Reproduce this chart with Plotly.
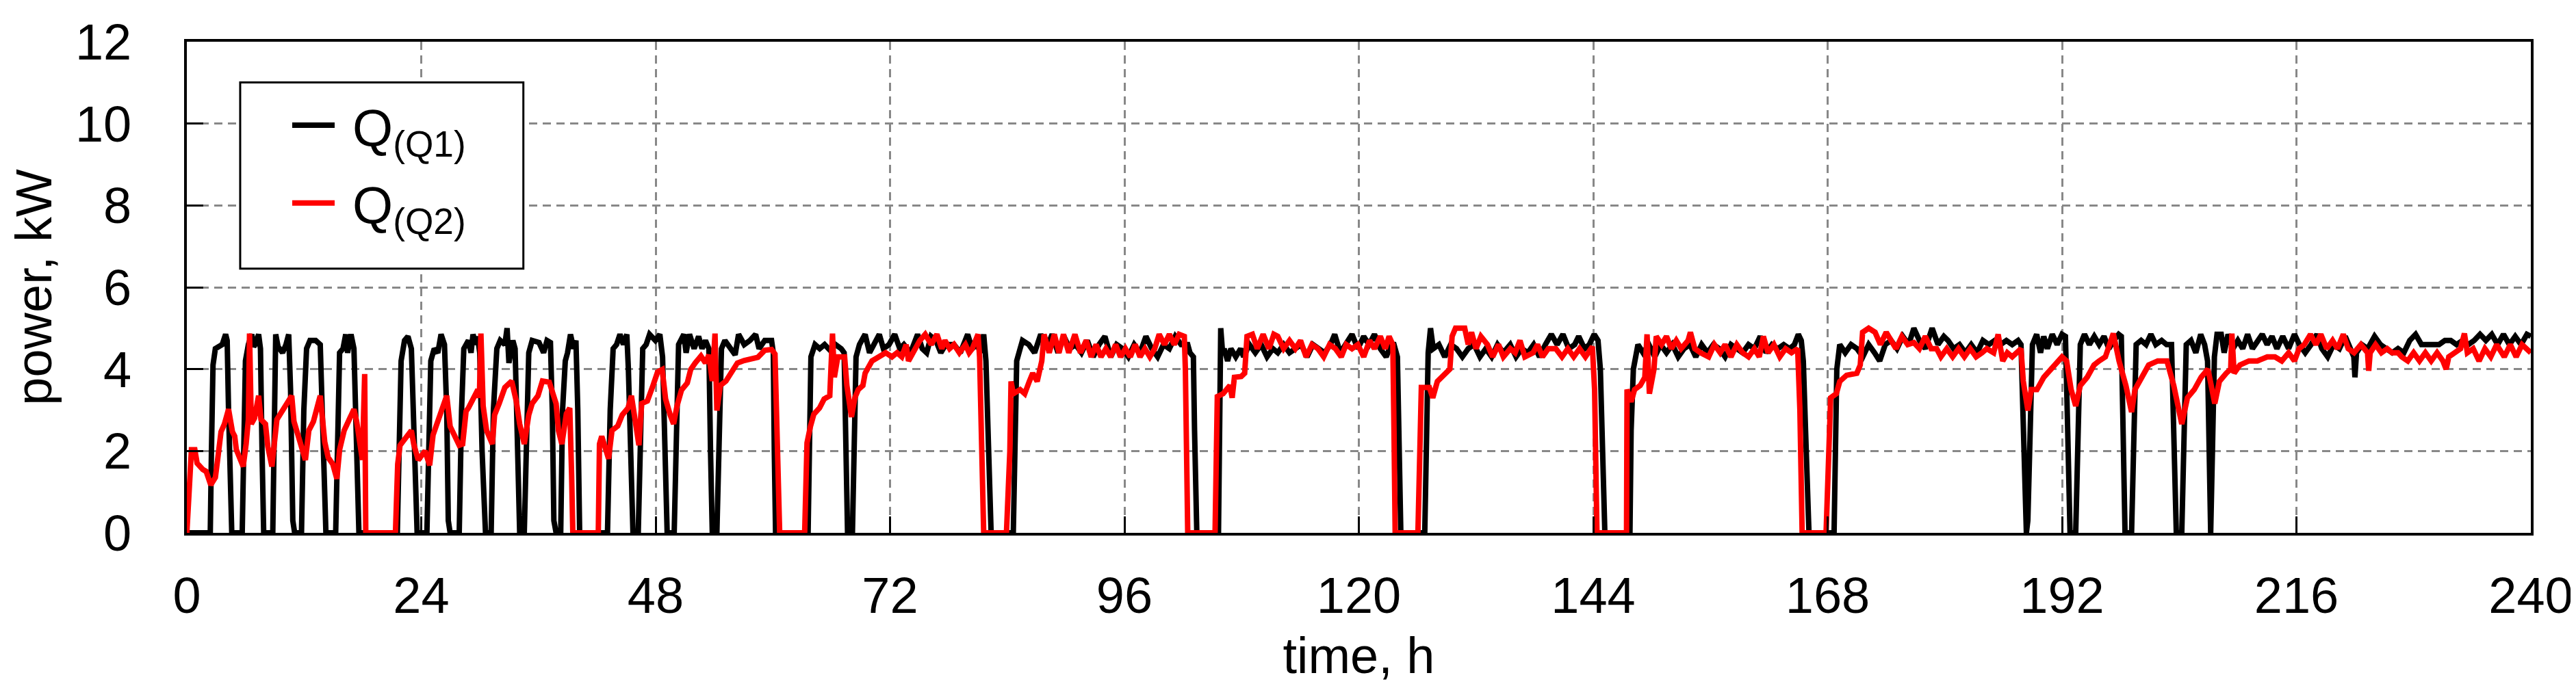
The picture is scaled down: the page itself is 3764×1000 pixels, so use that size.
import plotly.graph_objects as go

# ---- data (time in h, power in kW) ----
q1_readings = [
    (0, 0), (2.40, 0), (2.52, 2.0), (2.68, 4.1), (2.92, 4.5), (3.27, 4.55), (3.62, 4.6), (3.97, 4.85), (4.13, 4.7), (4.27, 3.0), (4.44, 0.5), (4.60, 0),
    (5.67, 0), (5.84, 2.5), (6.00, 4.2), (6.30, 4.6), (6.65, 4.85), (6.85, 4.55), (7.00, 4.6), (7.35, 4.85), (7.54, 4.5), (7.70, 2.0), (7.87, 0),
    (8.80, 0), (8.99, 3.0), (9.10, 4.85), (9.34, 4.55), (9.80, 4.4), (10.15, 4.6), (10.43, 4.85), (10.62, 3.5), (10.85, 0.3), (11.04, 0),
    (11.74, 0), (11.98, 3.0), (12.26, 4.5), (12.61, 4.7), (13.19, 4.7), (13.66, 4.6), (13.84, 3.0), (14.08, 0.3), (14.24, 0),
    (15.24, 0), (15.48, 3.0), (15.64, 4.4), (15.99, 4.5), (16.27, 4.85), (16.46, 4.4), (16.81, 4.85), (17.11, 4.5), (17.34, 2.0), (17.62, 0),
    (21.55, 0), (21.71, 2.5), (21.94, 4.2), (22.29, 4.7), (22.64, 4.8), (22.99, 4.5), (23.18, 3.0), (23.41, 0.3), (23.58, 0),
    (24.58, 0), (24.74, 2.5), (24.98, 4.2), (25.33, 4.5), (25.70, 4.4), (26.03, 4.85), (26.38, 4.6), (26.61, 3.0), (26.77, 0.3), (26.96, 0),
    (27.89, 0), (28.13, 3.0), (28.36, 4.5), (28.83, 4.7), (29.10, 4.4), (29.30, 4.85), (29.60, 4.6), (29.76, 4.8), (29.99, 4.4), (30.23, 2.0), (30.58, 0),
    (31.16, 0), (31.39, 3.0), (31.74, 4.5), (32.09, 4.7), (32.56, 4.6), (32.79, 5.0), (32.98, 4.15), (33.38, 4.7), (33.61, 4.5), (33.85, 2.0), (34.08, 0),
    (34.55, 0), (34.78, 3.0), (35.01, 4.4), (35.36, 4.7), (36.06, 4.65), (36.53, 4.4), (36.88, 4.7), (37.23, 4.65), (37.42, 3.0), (37.58, 0.3), (37.81, 0),
    (38.28, 0), (38.47, 3.0), (38.75, 4.2), (38.98, 4.4), (39.28, 4.85), (39.61, 4.5), (39.84, 4.7), (40.03, 3.0), (40.22, 0),
    (43.07, 0), (43.35, 3.0), (43.65, 4.5), (44.00, 4.6), (44.35, 4.85), (44.70, 4.6), (45.05, 4.85), (45.21, 4.0), (45.40, 2.0), (45.68, 0),
    (46.22, 0), (46.45, 3.0), (46.68, 4.5), (47.03, 4.6), (47.38, 4.85), (47.97, 4.7), (48.43, 4.85), (48.71, 4.3), (48.95, 2.0), (49.18, 0),
    (49.90, 0), (50.12, 3.0), (50.35, 4.6), (50.89, 4.85), (51.12, 4.4), (51.47, 4.85), (51.94, 4.5), (52.40, 4.8), (52.75, 4.5), (53.10, 4.7), (53.45, 4.5), (53.62, 2.0), (53.80, 0),
    (54.27, 0), (54.50, 2.5), (54.74, 4.5), (55.09, 4.7), (55.44, 4.6), (56.14, 4.35), (56.49, 4.85), (57.07, 4.6), (57.66, 4.7), (58.24, 4.85), (58.59, 4.5), (59.17, 4.7), (59.87, 4.7), (60.05, 4.4), (60.15, 2.0), (60.28, 0),
    (63.61, 0), (63.73, 2.5), (63.90, 4.3), (64.32, 4.6), (64.80, 4.5), (65.30, 4.6), (65.90, 4.45), (66.42, 4.6), (67.00, 4.5), (67.30, 4.4), (67.45, 2.0), (67.65, 0),
    (68.15, 0), (68.33, 3.0), (68.52, 4.3), (68.87, 4.6), (69.45, 4.85), (69.90, 4.4), (70.38, 4.6), (70.90, 4.85), (71.32, 4.5), (71.90, 4.6), (72.48, 4.85), (73.00, 4.5),
    (73.42, 4.6), (74.10, 4.4), (74.82, 4.85), (75.30, 4.5), (75.75, 4.4), (76.20, 4.8), (76.69, 4.7), (77.20, 4.4), (77.70, 4.6), (78.55, 4.6), (79.20, 4.4), (79.95, 4.85),
    (80.40, 4.5), (80.89, 4.6), (81.30, 4.4), (81.59, 4.85), (81.82, 4.2), (82.10, 2.0), (82.35, 0),
    (84.62, 0), (84.81, 2.5), (84.97, 4.2), (85.32, 4.5), (85.56, 4.7), (86.20, 4.6), (86.80, 4.4), (87.43, 4.85), (88.00, 4.5), (88.60, 4.85), (89.20, 4.4), (89.80, 4.8),
    (90.40, 4.5), (91.00, 4.6), (91.60, 4.4), (92.20, 4.7), (92.80, 4.3), (93.40, 4.6), (94.00, 4.8), (94.60, 4.3), (95.20, 4.6), (95.80, 4.5), (96.40, 4.3), (97.00, 4.6),
    (97.60, 4.4), (98.20, 4.8), (98.80, 4.5), (99.40, 4.3), (100.00, 4.6), (100.60, 4.5), (101.20, 4.8), (101.80, 4.6), (102.48, 4.6), (102.71, 4.4), (103.06, 4.3), (103.18, 2.5), (103.41, 0),
    (105.63, 0), (105.75, 3.0), (105.86, 5.0), (106.05, 4.4), (106.21, 4.5), (106.56, 4.2), (106.90, 4.5), (107.40, 4.3), (107.90, 4.5), (108.20, 4.3), (108.80, 4.6), (109.40, 4.4),
    (110.00, 4.6), (110.60, 4.3), (111.20, 4.5), (111.70, 4.4), (112.30, 4.6), (112.90, 4.4), (113.50, 4.5), (114.10, 4.6), (114.70, 4.3), (115.30, 4.6), (115.90, 4.5), (116.50, 4.4),
    (117.10, 4.6), (117.53, 4.85), (118.10, 4.4), (118.70, 4.6), (119.30, 4.85), (119.90, 4.5), (120.50, 4.8), (121.04, 4.6), (121.60, 4.85), (122.20, 4.5), (122.80, 4.3), (123.30, 4.6),
    (123.60, 4.6), (123.95, 4.3), (124.07, 2.5), (124.30, 0),
    (126.75, 0), (126.92, 3.0), (127.10, 4.4), (127.34, 5.0), (127.62, 4.5), (128.20, 4.6), (128.80, 4.3), (129.40, 4.6), (130.00, 4.5), (130.60, 4.3), (131.20, 4.5), (131.80, 4.6),
    (132.40, 4.3), (133.00, 4.5), (133.60, 4.3), (134.20, 4.6), (134.80, 4.4), (135.50, 4.6), (136.10, 4.3), (136.70, 4.5), (137.30, 4.4), (137.90, 4.6), (138.50, 4.3), (139.10, 4.6),
    (139.71, 4.85), (140.30, 4.6), (140.90, 4.85), (141.50, 4.5), (142.10, 4.6), (142.51, 4.8), (143.10, 4.5), (143.60, 4.6), (144.10, 4.85), (144.49, 4.7), (144.73, 4.0), (144.96, 2.0), (145.19, 0),
    (147.76, 0), (147.88, 2.5), (148.11, 4.0), (148.34, 4.4), (148.58, 4.6), (149.10, 4.4), (149.70, 4.6), (150.30, 4.3), (150.90, 4.6), (151.50, 4.4), (152.10, 4.6), (152.70, 4.3),
    (153.30, 4.5), (153.90, 4.6), (154.50, 4.3), (155.10, 4.6), (155.70, 4.4), (156.30, 4.6), (156.90, 4.5), (157.50, 4.3), (158.10, 4.6), (158.70, 4.5), (159.30, 4.4), (159.90, 4.6),
    (160.50, 4.5), (161.10, 4.8), (161.70, 4.4), (162.30, 4.6), (162.90, 4.5), (163.50, 4.6), (164.10, 4.5), (164.60, 4.6), (165.00, 4.85), (165.30, 4.7), (165.51, 4.2), (165.74, 2.5), (166.09, 0),
    (168.66, 0), (168.78, 2.5), (168.94, 4.0), (169.24, 4.6), (169.80, 4.4), (170.40, 4.6), (171.00, 4.5), (171.60, 4.3), (172.20, 4.6), (172.80, 4.4), (173.33, 4.2), (173.90, 4.6),
    (174.50, 4.7), (175.10, 4.5), (175.70, 4.8), (176.30, 4.6), (176.83, 5.0), (177.40, 4.7), (178.00, 4.5), (178.70, 5.0), (179.30, 4.6), (179.90, 4.8), (180.33, 4.7), (180.90, 4.5),
    (181.50, 4.6), (182.10, 4.4), (182.70, 4.6), (183.30, 4.4), (183.90, 4.7), (184.50, 4.6), (185.10, 4.7), (185.70, 4.6), (186.30, 4.7), (186.90, 4.6), (187.50, 4.7), (187.80, 4.6),
    (188.03, 2.5), (188.22, 0.3), (188.35, 0), (188.50, 0.3), (188.73, 2.5), (188.97, 4.6), (189.40, 4.85), (189.80, 4.4), (190.13, 4.8), (190.50, 4.5), (191.00, 4.85), (191.50, 4.6),
    (192.00, 4.85), (192.35, 4.8), (192.58, 2.5), (192.82, 0),
    (193.40, 0), (193.64, 3.0), (193.87, 4.6), (194.30, 4.85), (194.80, 4.6), (195.30, 4.8), (195.80, 4.6), (196.30, 4.8), (196.80, 4.5), (197.30, 4.7), (197.80, 4.85), (198.07, 4.8), (198.19, 2.5), (198.45, 0),
    (199.12, 0), (199.35, 3.0), (199.59, 4.6), (200.10, 4.7), (200.60, 4.6), (201.10, 4.85), (201.60, 4.6), (202.20, 4.7), (202.70, 4.6), (203.21, 4.6), (203.44, 2.5), (203.70, 0),
    (204.26, 0), (204.49, 3.0), (204.72, 4.6), (205.20, 4.7), (205.70, 4.4), (206.20, 4.85), (206.60, 4.6), (206.90, 4.2), (207.06, 2.0), (207.22, 0), (207.40, 2.0), (207.60, 4.3),
    (207.87, 4.85), (208.30, 4.85), (208.60, 4.4), (209.00, 4.85), (209.50, 4.5), (210.00, 4.7), (210.50, 4.5), (211.00, 4.85), (211.50, 4.5), (212.00, 4.7), (212.50, 4.85), (213.00, 4.6),
    (213.50, 4.8), (214.00, 4.5), (214.60, 4.8), (215.20, 4.5), (215.80, 4.85), (216.30, 4.6), (216.90, 4.4), (217.50, 4.6), (218.10, 4.85), (218.60, 4.5), (219.20, 4.3), (219.80, 4.6),
    (220.40, 4.5), (221.00, 4.8), (221.60, 4.5), (221.88, 4.3), (221.99, 3.8), (222.15, 4.4), (222.70, 4.6), (223.30, 4.5), (224.00, 4.8), (224.60, 4.6), (225.20, 4.5), (225.80, 4.4),
    (226.40, 4.5), (227.00, 4.4), (227.60, 4.7), (228.20, 4.85), (228.80, 4.6), (229.40, 4.6), (230.00, 4.6), (230.60, 4.6), (231.20, 4.7), (231.80, 4.7), (232.40, 4.6), (233.00, 4.7),
    (233.60, 4.6), (234.20, 4.7), (234.80, 4.85), (235.40, 4.7), (236.00, 4.85), (236.60, 4.6), (237.20, 4.85), (237.80, 4.6), (238.40, 4.8), (239.00, 4.6), (239.60, 4.85), (240.00, 4.8),
]

q2_readings = [
    (0, 0), (0.47, 2.03), (0.82, 2.03), (1.05, 1.70), (1.63, 1.55), (1.98, 1.5), (2.45, 1.17), (2.92, 1.35), (3.15, 1.78), (3.50, 2.47), (3.85, 2.66), (4.27, 3.02),
    (4.67, 2.47), (4.90, 2.36), (5.07, 2.03), (5.37, 1.84), (5.77, 1.62), (6.07, 2.17), (6.30, 2.77), (6.42, 4.87), (6.60, 2.66), (6.93, 2.8), (7.35, 3.35), (7.59, 2.77),
    (8.05, 2.66), (8.29, 2.11), (8.71, 1.62), (9.22, 2.77), (9.69, 2.94), (10.15, 3.1), (10.74, 3.35), (10.97, 2.72), (11.44, 2.33), (11.79, 2.06), (12.14, 1.78), (12.49, 2.5),
    (12.96, 2.72), (13.66, 3.35), (14.12, 2.22), (14.47, 1.84), (14.94, 1.68), (15.36, 1.32), (15.64, 2.03), (16.11, 2.5), (16.57, 2.72), (17.11, 3.02), (17.39, 2.72), (17.81, 1.95),
    (17.97, 1.78), (18.21, 3.88), (18.32, 0), (21.36, 0), (21.59, 1.68), (21.83, 2.14), (22.29, 2.28), (22.99, 2.5), (23.23, 2.17), (23.69, 1.78), (24.39, 2.0), (24.86, 1.65),
    (25.21, 2.39), (25.79, 2.77), (26.14, 3.05), (26.61, 3.35), (26.96, 2.6), (27.43, 2.33), (27.89, 2.14), (28.24, 2.17), (28.59, 2.97), (28.83, 3.05), (29.18, 3.22), (29.45, 3.4),
    (29.80, 3.5), (29.95, 3.3), (30.11, 4.87), (30.34, 3.1), (30.69, 2.5), (31.28, 2.17), (31.51, 2.88), (31.98, 3.16), (32.56, 3.55), (33.26, 3.71), (33.73, 3.22), (34.08, 2.66),
    (34.55, 2.17), (35.01, 2.88), (35.36, 3.16), (35.95, 3.35), (36.41, 3.71), (37.11, 3.68), (37.81, 3.16), (38.05, 2.5), (38.40, 2.17), (38.86, 2.91), (39.21, 3.05), (39.40, 1.4),
    (39.52, 0), (42.13, 0), (42.25, 2.17), (42.48, 2.36), (42.83, 2.08), (43.18, 1.81), (43.53, 2.5), (44.12, 2.61), (44.58, 2.88), (45.17, 3.05), (45.52, 3.35), (45.98, 2.66),
    (46.29, 2.14), (46.57, 3.16), (47.15, 3.22), (47.73, 3.6), (48.20, 3.93), (48.67, 3.99), (49.02, 3.27), (49.49, 2.88), (49.84, 2.66), (50.19, 3.1), (50.65, 3.49), (51.24, 3.66),
    (51.59, 3.99), (52.05, 4.15), (52.64, 4.32), (53.10, 4.15), (53.45, 4.35), (53.80, 3.71), (54.08, 4.87), (54.27, 2.99), (54.62, 3.6), (55.20, 3.71), (55.79, 3.93), (56.37, 4.15),
    (57.07, 4.21), (57.77, 4.26), (58.47, 4.29), (59.17, 4.46), (59.87, 4.48), (60.22, 4.37), (60.46, 2.5), (60.70, 0),
    (63.26, 0), (63.50, 2.2), (63.85, 2.6), (64.20, 2.9), (64.78, 3.05), (65.25, 3.27), (65.83, 3.35), (66.00, 4.0), (66.11, 4.87), (66.30, 3.8), (66.65, 4.3), (67.35, 4.3),
    (67.58, 3.6), (68.05, 2.83), (68.40, 3.3), (68.75, 3.5), (69.22, 3.6), (69.45, 3.9), (70.15, 4.2), (70.85, 4.3), (71.55, 4.4), (72.20, 4.3), (72.72, 4.4), (73.20, 4.3),
    (73.65, 4.6), (73.89, 4.2), (74.35, 4.4), (75.05, 4.7), (75.60, 4.85), (76.22, 4.6), (76.80, 4.85), (77.30, 4.5), (77.62, 4.7), (78.10, 4.5), (78.55, 4.6), (79.10, 4.4),
    (79.72, 4.6), (80.10, 4.4), (80.42, 4.5), (81.01, 4.85), (81.17, 4.3), (81.36, 2.5), (81.59, 0),
    (83.92, 0), (84.27, 2.0), (84.39, 3.7), (84.62, 3.4), (85.32, 3.5), (85.79, 3.4), (86.26, 3.7), (86.61, 3.9), (87.07, 3.7), (87.54, 4.2), (87.77, 4.85), (88.30, 4.4),
    (88.82, 4.85), (89.30, 4.4), (89.76, 4.85), (90.30, 4.4), (90.93, 4.85), (91.50, 4.4), (92.09, 4.7), (92.60, 4.3), (93.10, 4.6), (93.60, 4.3), (94.10, 4.5), (94.60, 4.3),
    (95.10, 4.6), (95.60, 4.3), (96.10, 4.5), (96.60, 4.3), (97.10, 4.6), (97.60, 4.3), (98.10, 4.5), (98.60, 4.3), (99.10, 4.5), (99.56, 4.85), (100.10, 4.6), (100.60, 4.85),
    (101.10, 4.6), (101.60, 4.85), (102.13, 4.8), (102.24, 4.0), (102.36, 2.0), (102.48, 0),
    (105.28, 0), (105.40, 2.0), (105.51, 3.33), (106.10, 3.4), (106.50, 3.5), (106.80, 3.6), (107.03, 3.3), (107.26, 3.8), (107.96, 3.82), (108.31, 3.9), (108.55, 4.8), (109.10, 4.85),
    (109.60, 4.5), (110.20, 4.85), (110.80, 4.5), (111.30, 4.85), (111.70, 4.8), (112.30, 4.5), (112.90, 4.7), (113.50, 4.5), (114.03, 4.7), (114.60, 4.3), (115.20, 4.6), (115.80, 4.5),
    (116.40, 4.3), (117.00, 4.6), (117.60, 4.5), (118.20, 4.3), (118.70, 4.6), (119.30, 4.5), (119.90, 4.6), (120.50, 4.3), (121.10, 4.7), (121.60, 4.5), (122.20, 4.8), (122.70, 4.5),
    (123.10, 4.8), (123.48, 4.6), (123.60, 2.5), (123.72, 0),
    (126.05, 0), (126.29, 2.5), (126.40, 3.55), (127.22, 3.55), (127.57, 3.3), (128.04, 3.7), (128.97, 3.9), (129.32, 4.0), (129.55, 4.8), (129.90, 5.0), (130.84, 5.0), (131.20, 4.6),
    (131.54, 4.9), (132.00, 4.5), (132.50, 4.8), (133.17, 4.6), (133.70, 4.3), (134.30, 4.6), (134.80, 4.3), (135.51, 4.5), (136.00, 4.4), (136.50, 4.7), (137.00, 4.3), (137.84, 4.4),
    (138.30, 4.6), (138.80, 4.3), (139.40, 4.5), (140.17, 4.5), (140.80, 4.3), (141.40, 4.5), (142.00, 4.3), (142.60, 4.5), (143.20, 4.3), (143.91, 4.55), (144.14, 3.5), (144.26, 1.5), (144.38, 0),
    (147.41, 0), (147.46, 3.5), (147.88, 3.2), (148.23, 3.5), (148.81, 3.6), (149.28, 3.8), (149.51, 4.85), (149.75, 3.4), (150.22, 4.0), (150.45, 4.8), (151.00, 4.6), (151.50, 4.8),
    (152.00, 4.5), (152.50, 4.7), (153.00, 4.5), (153.71, 4.7), (153.95, 4.9), (154.40, 4.5), (155.00, 4.4), (155.82, 4.3), (156.40, 4.6), (157.00, 4.4), (157.50, 4.6), (158.10, 4.3),
    (158.70, 4.6), (159.30, 4.4), (159.90, 4.3), (160.50, 4.5), (161.00, 4.3), (161.42, 4.8), (161.90, 4.4), (162.50, 4.6), (163.10, 4.3), (163.70, 4.5), (164.30, 4.4), (164.93, 4.5),
    (165.16, 3.0), (165.28, 1.5), (165.39, 0),
    (167.84, 0), (168.08, 2.0), (168.31, 3.3), (168.89, 3.4), (169.24, 3.7), (169.94, 3.85), (170.99, 3.9), (171.34, 4.1), (171.58, 4.9), (172.20, 5.0), (172.86, 4.9), (173.40, 4.6),
    (174.00, 4.9), (174.50, 4.7), (175.00, 4.5), (175.60, 4.8), (176.20, 4.6), (176.83, 4.65), (177.40, 4.5), (178.00, 4.8), (178.60, 4.5), (179.16, 4.5), (179.60, 4.3), (180.20, 4.5),
    (180.80, 4.3), (181.40, 4.5), (182.00, 4.3), (182.60, 4.5), (183.20, 4.3), (183.80, 4.4), (184.30, 4.5), (185.00, 4.4), (185.46, 4.85), (185.93, 4.2), (186.40, 4.4), (186.90, 4.3),
    (187.40, 4.4), (187.80, 4.5), (188.03, 3.71), (188.50, 2.99), (188.85, 3.5), (189.43, 3.5), (190.13, 3.8), (190.83, 4.0), (191.53, 4.2), (192.00, 4.3), (192.47, 4.2), (192.93, 3.5),
    (193.40, 3.1), (193.87, 3.6), (194.57, 3.8), (195.27, 4.1), (195.80, 4.2), (196.44, 4.3), (197.25, 4.87), (197.84, 4.2), (198.54, 3.6), (199.12, 2.95), (199.47, 3.5), (200.17, 3.8),
    (200.87, 4.1), (201.80, 4.2), (202.74, 4.2), (203.44, 3.6), (204.26, 2.66), (204.84, 3.3), (205.54, 3.5), (206.24, 3.8), (206.94, 4.0), (207.64, 3.16), (208.11, 3.7), (208.81, 3.9),
    (209.27, 4.0), (209.39, 4.87), (209.62, 3.9), (210.21, 4.1), (211.14, 4.2), (212.00, 4.2), (213.01, 4.3), (213.80, 4.3), (214.50, 4.2), (215.20, 4.4), (215.80, 4.2), (216.27, 4.5),
    (216.80, 4.6), (217.44, 4.85), (218.00, 4.6), (218.50, 4.85), (219.10, 4.5), (219.70, 4.7), (220.20, 4.5), (220.80, 4.85), (221.30, 4.5), (221.90, 4.4), (222.60, 4.6), (223.28, 4.4),
    (223.40, 3.96), (223.55, 4.4), (224.10, 4.6), (224.70, 4.4), (225.30, 4.5), (225.80, 4.4), (226.40, 4.4), (226.78, 4.3), (227.40, 4.2), (228.00, 4.4), (228.60, 4.2), (229.20, 4.4),
    (229.80, 4.2), (230.40, 4.4), (231.00, 4.2), (231.33, 4.0), (231.60, 4.3), (232.20, 4.4), (232.80, 4.5), (233.20, 4.87), (233.50, 4.4), (234.10, 4.5), (234.70, 4.2), (235.30, 4.5),
    (235.90, 4.3), (236.50, 4.6), (237.28, 4.3), (237.90, 4.6), (238.50, 4.3), (239.10, 4.6), (240.00, 4.4),
]

x_ticks = [0, 24, 48, 72, 96, 120, 144, 168, 192, 216, 240]
y_ticks = [0, 2, 4, 6, 8, 10, 12]
series_names = ["&nbsp;Q<sub>(Q1)</sub>", "&nbsp;Q<sub>(Q2)</sub>"]
series_colors = ["#000000", "#ff0000"]

q1_time = [p[0] for p in q1_readings]
q1_kw = [p[1] for p in q1_readings]
q2_time = [p[0] for p in q2_readings]
q2_kw = [p[1] for p in q2_readings]

FONT = "Liberation Sans, Arial, sans-serif"
FS = 74

fig = go.Figure()
fig.add_trace(go.Scatter(x=q1_time, y=q1_kw, mode="lines", name=series_names[0],
                         line=dict(color=series_colors[0], width=8), legendgroup="a"))
fig.add_trace(go.Scatter(x=q2_time, y=q2_kw, mode="lines", name=series_names[1],
                         line=dict(color=series_colors[1], width=8), legendgroup="b"))

axis_common = dict(
    showgrid=True, gridcolor="#888888", gridwidth=3, griddash="12px,8px",
    showline=True, linecolor="black", linewidth=4, mirror=True,
    ticks="inside", ticklen=24, tickwidth=3, tickcolor="black",
    zeroline=False, tickfont=dict(family=FONT, size=FS, color="black"),
)

fig.update_xaxes(range=[0, 240], tickvals=x_ticks, ticklabelstandoff=24,
                 title=dict(text="time, h", font=dict(family=FONT, size=FS, color="black"), standoff=22),
                 **axis_common)
fig.update_yaxes(range=[0, 12], tickvals=y_ticks, ticklabelstandoff=62,
                 title=dict(text="power, kW", font=dict(family=FONT, size=FS, color="black"), standoff=26),
                 **axis_common)

# legend frame
fig.add_shape(type="rect", xref="paper", yref="paper",
              x0=0.02276, x1=0.14357, y0=0.5379, y1=0.9172,
              line=dict(color="black", width=3), fillcolor="white", layer="above")

fig.update_layout(
    width=3764, height=1000,
    margin=dict(l=265, r=72, t=46, b=229),
    paper_bgcolor="white", plot_bgcolor="white",
    font=dict(family=FONT, size=FS, color="black"),
    showlegend=True,
    legend=dict(x=0.0435, y=0.908, xanchor="left", yanchor="top",
                bgcolor="rgba(0,0,0,0)", borderwidth=0,
                font=dict(family=FONT, size=76, color="black"),
                tracegroupgap=12, itemwidth=62),
)

fig.write_html("out.html")
